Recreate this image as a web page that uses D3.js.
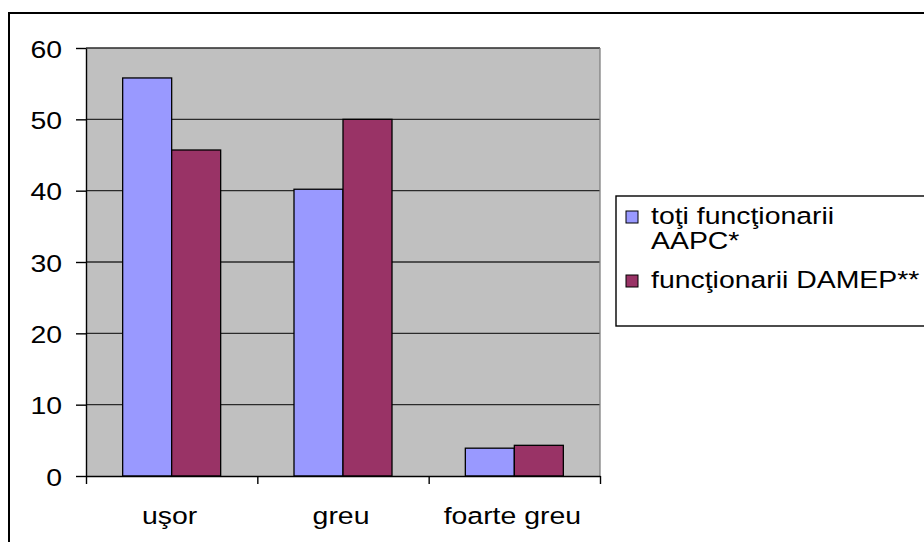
<!DOCTYPE html>
<html>
<head>
<meta charset="utf-8">
<script src="https://cdn.jsdelivr.net/npm/d3@7/dist/d3.min.js"></script>
<style>
  html, body { margin: 0; padding: 0; background: #fff; }
  svg { display: block; }
  text { font-family: "Liberation Sans", Arial, sans-serif; fill: #000; }
</style>
</head>
<body>
<svg id="chart" width="924" height="542"></svg>
<script>
// Chart data
const categories = ["uşor", "greu", "foarte greu"];
const seriesNames = ["toţi funcţionarii AAPC*", "funcţionarii DAMEP**"];
const legendLines = [["toţi funcţionarii", "AAPC*"], ["funcţionarii DAMEP**"]];
const aapcValues = [55.8, 40.2, 3.9];
const damepValues = [45.7, 50.0, 4.3];
const yTickValues = [0, 10, 20, 30, 40, 50, 60];
const seriesColors = ["#9999FF", "#993366"];

const svg = d3.select("#chart");
const fontSize = 24.5;
const stretch = 1.16; // text is drawn slightly wide

const plot = { left: 86, right: 600, top: 48, bottom: 476 };

// Outer frame
svg.append("rect")
  .attr("x", 9).attr("y", 13)
  .attr("width", 940).attr("height", 560)
  .attr("fill", "#fff").attr("stroke", "#000").attr("stroke-width", 2);

// Scales
const y = d3.scaleLinear().domain([0, 60]).range([plot.bottom, plot.top]);
const x0 = d3.scaleBand().domain(categories).range([plot.left, plot.right])
  .paddingInner(0.428).paddingOuter(0.214);
const x1 = d3.scaleBand().domain(seriesNames).range([0, x0.bandwidth()]);
const xEdges = d3.scaleLinear().domain([0, categories.length]).range([plot.left, plot.right]);

// Plot background
svg.append("rect")
  .attr("x", plot.left).attr("y", plot.top)
  .attr("width", plot.right - plot.left).attr("height", plot.bottom - plot.top)
  .attr("fill", "#C0C0C0");

// Gridlines
svg.append("g").selectAll("line")
  .data(yTickValues.filter(v => v > 0))
  .join("line")
  .attr("x1", plot.left).attr("x2", plot.right)
  .attr("y1", d => y(d)).attr("y2", d => y(d))
  .attr("stroke", "#2a2a2a").attr("stroke-width", 1.4);

// Right edge of plot area
svg.append("line")
  .attr("x1", plot.right).attr("x2", plot.right)
  .attr("y1", plot.top).attr("y2", plot.bottom)
  .attr("stroke", "#808080").attr("stroke-width", 1.3);

// Bars
const rows = categories.map((c, i) => ({ cat: c, vals: [aapcValues[i], damepValues[i]] }));
const groups = svg.append("g").selectAll("g")
  .data(rows).join("g")
  .attr("transform", d => `translate(${x0(d.cat)},0)`);
groups.selectAll("rect")
  .data(d => d.vals.map((v, j) => ({ v, s: seriesNames[j], j })))
  .join("rect")
  .attr("x", d => x1(d.s))
  .attr("y", d => y(d.v))
  .attr("width", x1.bandwidth())
  .attr("height", d => y(0) - y(d.v))
  .attr("fill", d => seriesColors[d.j])
  .attr("stroke", "#000").attr("stroke-width", 1.3);

// Y axis
const yAxis = svg.append("g")
  .attr("transform", `translate(${plot.left},0)`)
  .call(d3.axisLeft(y).tickValues(yTickValues).tickSize(10).tickSizeOuter(0));
yAxis.select(".domain").attr("stroke", "#000").attr("stroke-width", 1.4);
yAxis.selectAll(".tick line").attr("stroke", "#000").attr("stroke-width", 1.4);
yAxis.selectAll(".tick text")
  .attr("x", 0).attr("dy", null)
  .attr("text-anchor", "end")
  .attr("dominant-baseline", "central")
  .attr("transform", `translate(-24,1) scale(${stretch},1)`)
  .style("font-size", fontSize + "px")
  .style("font-family", "'Liberation Sans', Arial, sans-serif")
  .attr("fill", "#000");

// X axis with ticks on category boundaries
const xAxis = svg.append("g")
  .attr("transform", `translate(0,${plot.bottom})`)
  .call(d3.axisBottom(xEdges).tickValues(d3.range(categories.length + 1))
    .tickFormat("").tickSize(8).tickSizeOuter(0));
xAxis.select(".domain").attr("stroke", "#000").attr("stroke-width", 1.4);
xAxis.selectAll(".tick line").attr("stroke", "#000").attr("stroke-width", 1.4);

// Category labels
svg.append("g").selectAll("text")
  .data(categories).join("text")
  .attr("text-anchor", "middle")
  .attr("transform", d => `translate(${x0(d) + x0.bandwidth() / 2 - 2},524) scale(${stretch},1)`)
  .style("font-size", fontSize + "px")
  .text(d => d);

// Legend
const legend = svg.append("g");
legend.append("rect")
  .attr("x", 616).attr("y", 196)
  .attr("width", 340).attr("height", 130)
  .attr("fill", "#fff").attr("stroke", "#000").attr("stroke-width", 1.4);
const legendBaselines = [[224, 249], [288]];
legendLines.forEach((lines, i) => {
  const b = legendBaselines[i][0];
  legend.append("rect")
    .attr("x", 626).attr("y", b - 13)
    .attr("width", 12).attr("height", 12)
    .attr("fill", seriesColors[i]).attr("stroke", "#000").attr("stroke-width", 1);
  lines.forEach((line, k) => {
    legend.append("text")
      .attr("transform", `translate(651,${legendBaselines[i][k]}) scale(${stretch},1)`)
      .style("font-size", fontSize + "px")
      .text(line);
  });
});
</script>
</body>
</html>
